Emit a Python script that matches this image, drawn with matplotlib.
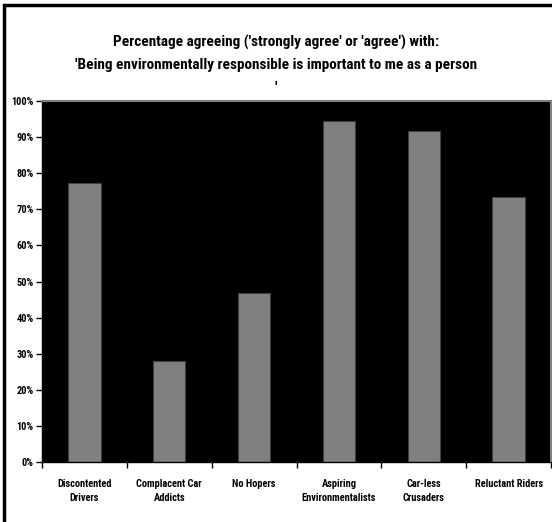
import matplotlib.pyplot as plt
import matplotlib.patches as mpatches
from matplotlib.ticker import FuncFormatter, FixedLocator
import numpy as np

FONT = ["Arial Narrow", "Roboto Condensed", "DejaVu Sans"]
plt.rcParams["font.family"] = FONT

segments = ["Discontented\nDrivers", "Complacent Car\nAddicts", "No Hopers",
            "Aspiring\nEnvironmentalists", "Car-less\nCrusaders", "Reluctant Riders"]
agree_pct = [77.2, 27.9, 46.7, 94.4, 91.6, 73.3]

title = ("Percentage agreeing ('strongly agree' or 'agree') with:\n"
         "'Being environmentally responsible is important to me as a person\n'")

fig = plt.figure(figsize=(5.52, 5.22), dpi=100)
ax = fig.add_axes([42 / 552, 60 / 522, 509 / 552, 361 / 522])
ax.set_facecolor("black")

x = np.arange(len(segments))
ax.bar(x, agree_pct, width=0.38, color="#808080", edgecolor="#404040",
       linewidth=0.8, zorder=2)

ax.set_xlim(-0.5, len(segments) - 0.5)
ax.set_ylim(0, 100)
ax.yaxis.set_major_locator(FixedLocator(np.arange(0, 101, 10)))
ax.yaxis.set_major_formatter(FuncFormatter(lambda v, p: f"{v:.0f}%"))

# category labels centred, tick marks on the boundaries between groups
ax.set_xticks(x)
ax.set_xticklabels(segments, fontsize=7.5, fontweight="bold", linespacing=1.6)
ax.tick_params(axis="x", which="major", length=0, pad=12)
ax.set_xticks(np.arange(-0.5, len(segments)), minor=True)
ax.tick_params(axis="x", which="minor", length=4, width=1, direction="out")
ax.tick_params(axis="y", length=4, width=1, direction="out", labelsize=7.5, pad=2)
for lbl in ax.get_yticklabels():
    lbl.set_fontweight("bold")

for side in ["top", "right"]:
    ax.spines[side].set_color("#808080")
    ax.spines[side].set_linewidth(1.5)
ax.spines["left"].set_linewidth(1)
ax.spines["bottom"].set_linewidth(1)

fig.text(0.5, 1 - 35 / 522, title, ha="center", va="top", fontsize=11,
         fontweight="bold", linespacing=1.75)

# chart frame
frame = mpatches.Rectangle((4 / 552, -0.1), 1.2, 1.1 - 5 / 522,
                           transform=fig.transFigure, fill=False,
                           edgecolor="black", linewidth=2.5)
fig.patches.append(frame)

fig.savefig("out.png", dpi=100)
